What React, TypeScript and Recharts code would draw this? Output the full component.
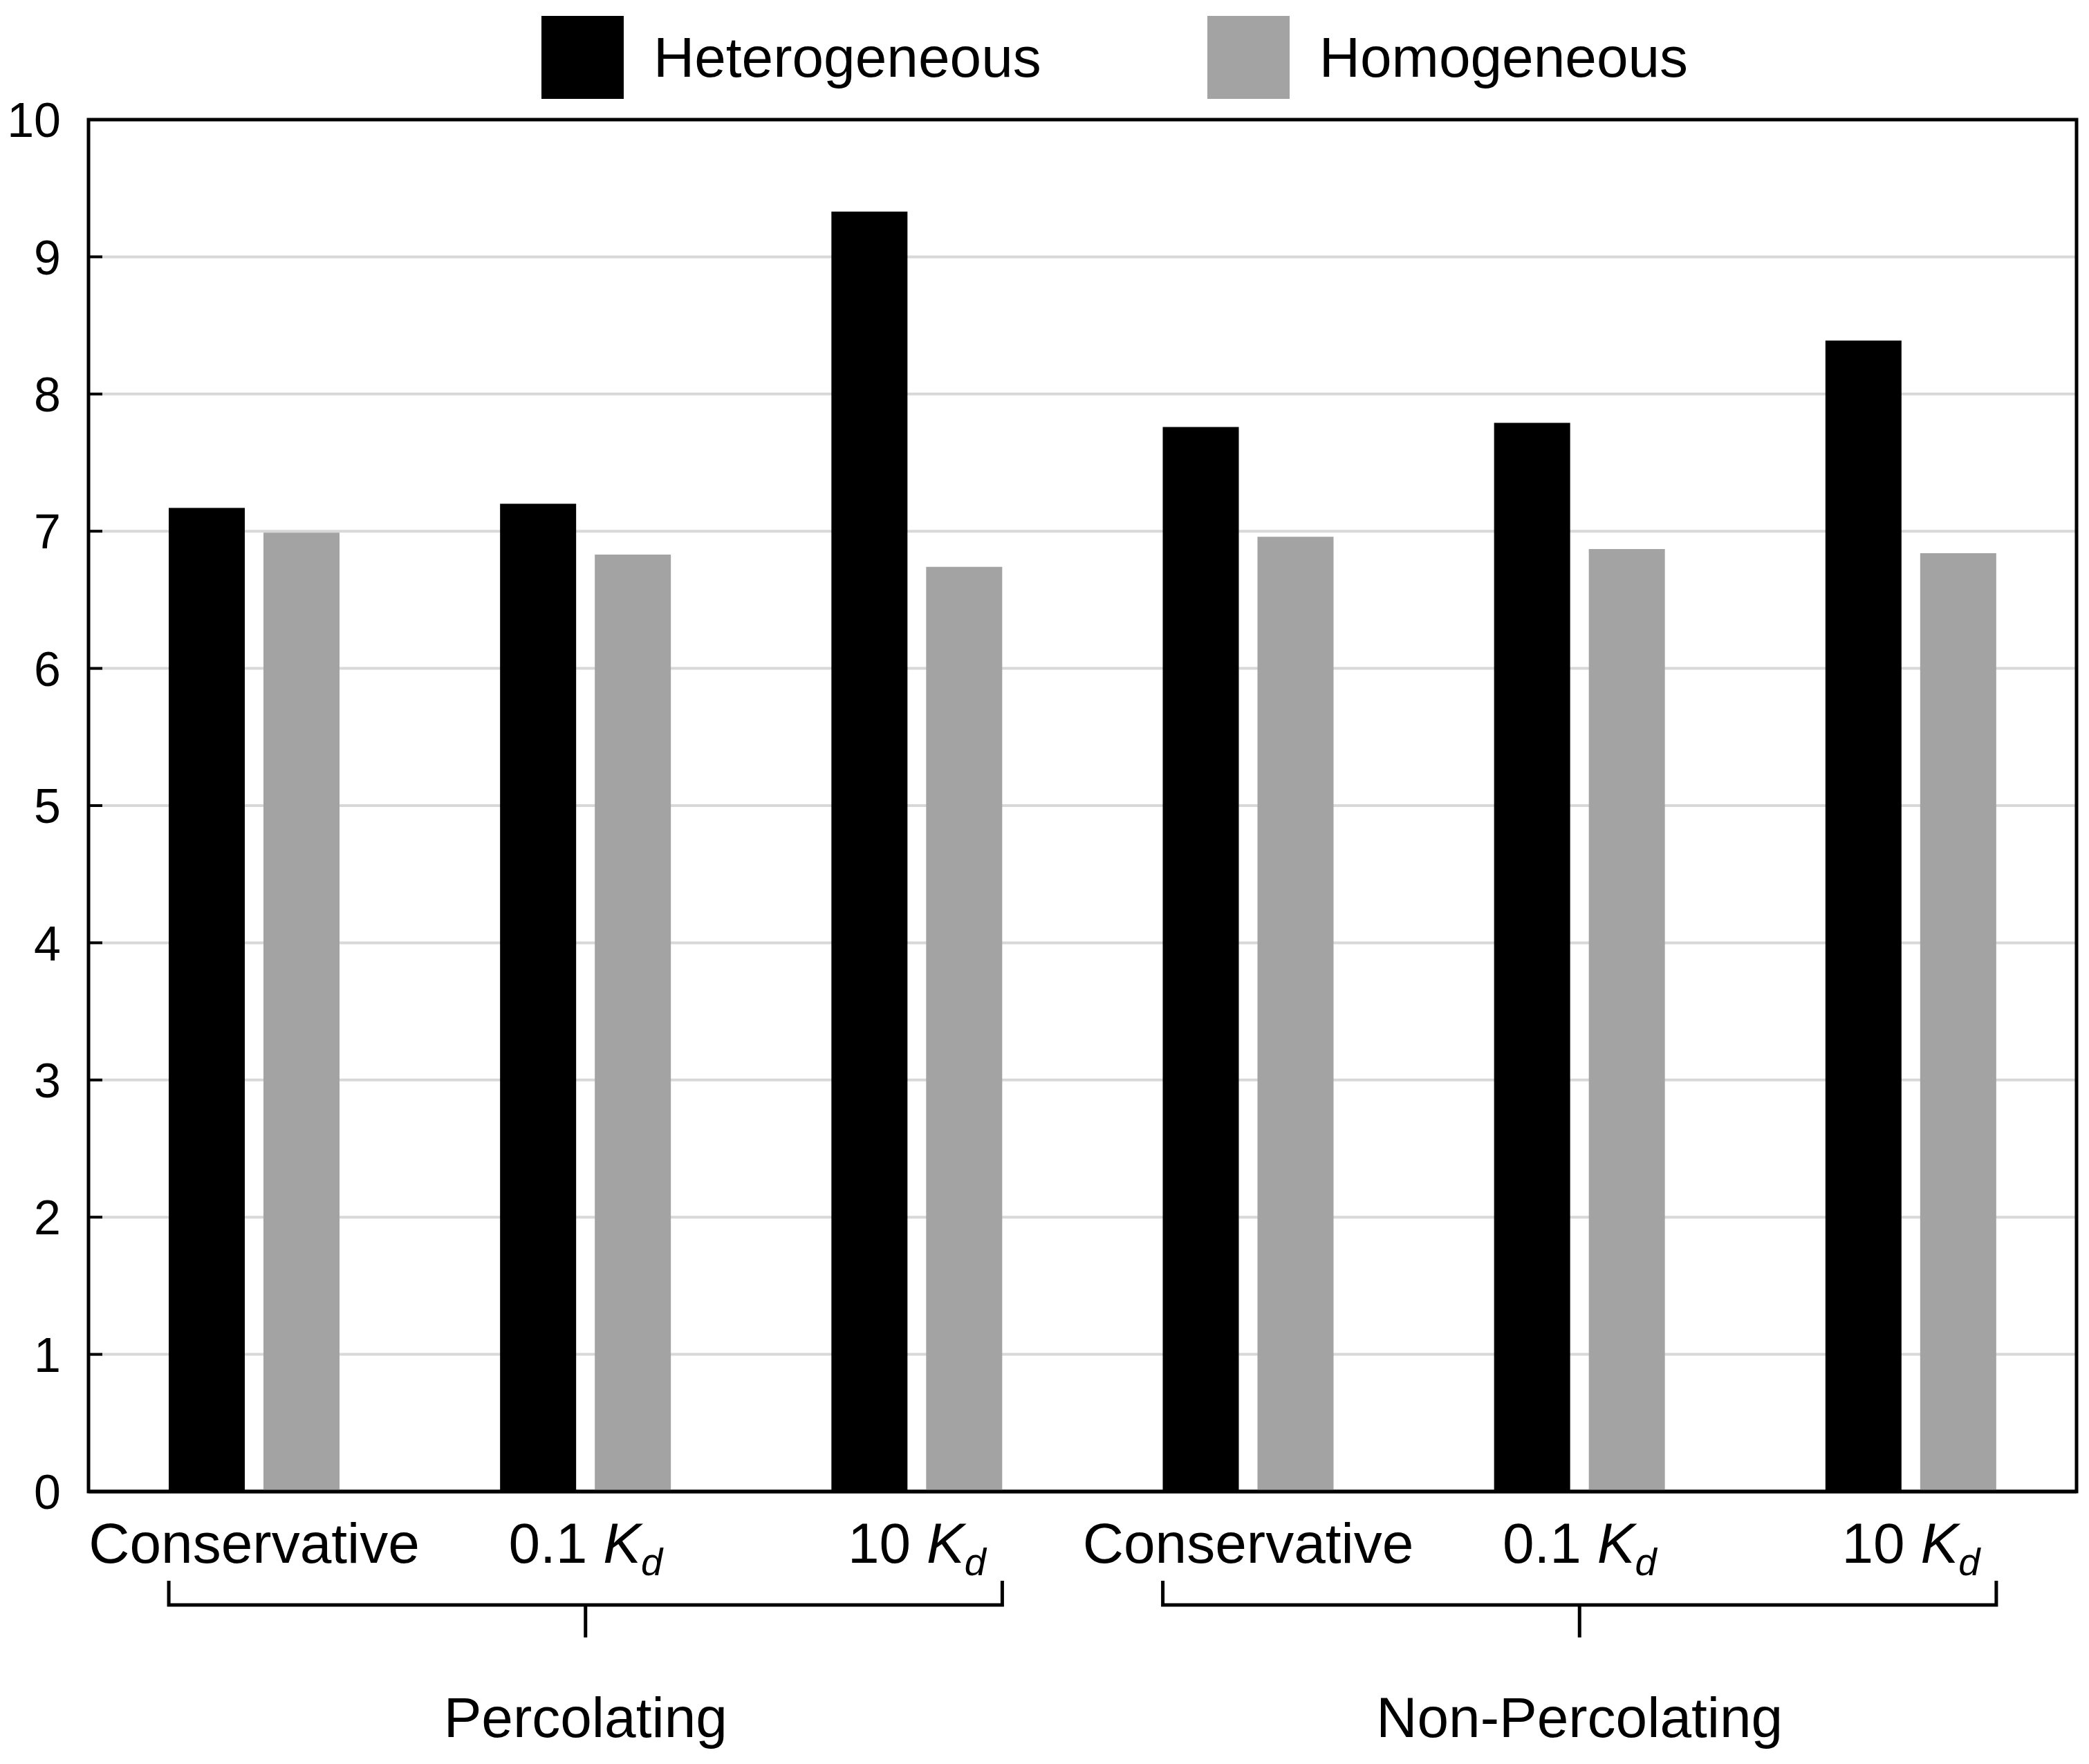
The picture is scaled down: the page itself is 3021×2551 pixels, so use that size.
import React from 'react';
import { BarChart, Bar, XAxis, YAxis, CartesianGrid, Legend, ReferenceArea } from 'recharts';

const groups = ['Percolating', 'Non-Percolating'];
const treatments = ['Conservative', '0.1 Kd', '10 Kd'];
const heterogeneous = [7.17, 7.2, 9.33, 7.76, 7.79, 8.39];
const homogeneous = [6.99, 6.83, 6.74, 6.96, 6.87, 6.84];
const yTicks = [0, 1, 2, 3, 4, 5, 6, 7, 8, 9, 10];

const data = heterogeneous.map((v, i) => ({
  name: treatments[i % 3],
  group: groups[Math.floor(i / 3)],
  heterogeneous: v,
  homogeneous: homogeneous[i],
}));

const FONT = '"Liberation Sans", Arial, sans-serif';
const W = 3021;
const H = 2551;
const MARGIN = { top: 173, right: 18, left: 0, bottom: 34 };
const Y_AXIS_W = 128;
const BAR_SIZE = 110;
const BAR_GAP = 27;
const PLOT_W = W - MARGIN.left - MARGIN.right - Y_AXIS_W;
const BAND = PLOT_W / data.length;
const BAR_OFFSET = (BAND - (BAR_SIZE * 2 + BAR_GAP)) / 2;

const ValueTick = (props: any) => {
  const { x, y, payload } = props;
  const ax = x + 40;
  return (
    <g>
      {payload.value > 0 && payload.value < 10 && (
        <line x1={ax} x2={ax + 20} y1={y} y2={y} stroke="#000" strokeWidth={4} />
      )}
      <text x={x} y={y} dy="0.36em" textAnchor="end" fontSize={70} fontFamily={FONT} fill="#000">
        {payload.value}
      </text>
    </g>
  );
};

const TreatmentTick = (props: any) => {
  const { x, y, payload } = props;
  const label: string = payload.value;
  const m = label.match(/^(.*) Kd$/);
  return (
    <text x={x} y={y + 103} textAnchor="middle" fontSize={82} fontFamily={FONT} fill="#000" style={{ whiteSpace: 'pre' }}>
      {m ? (
        <>
          <tspan>{m[1] + ' '}</tspan>
          <tspan fontStyle="italic">K</tspan>
          <tspan fontStyle="italic" fontSize={56} dy={18}>d</tspan>
        </>
      ) : (
        label
      )}
    </text>
  );
};

const GroupTick = (props: any) => {
  const { x, y, payload } = props;
  const half = BAND * 1.5 - BAR_OFFSET;
  const top = y + 19;
  const mid = y + 54;
  return (
    <g>
      <path
        d={`M${x - half},${top} L${x - half},${mid} L${x + half},${mid} L${x + half},${top} M${x},${mid} L${x},${y + 101}`}
        stroke="#000"
        strokeWidth={5}
        fill="none"
      />
      <text x={x} y={y + 245} textAnchor="middle" fontSize={82} fontFamily={FONT} fill="#000">
        {payload.value}
      </text>
    </g>
  );
};

const LegendContent = (props: any) => {
  const { payload } = props;
  return (
    <div style={{ display: 'flex', alignItems: 'center', fontFamily: FONT, fontSize: 82, color: '#000', whiteSpace: 'nowrap' }}>
      {(payload || []).map((p: any, i: number) => (
        <div key={p.value} style={{ display: 'flex', alignItems: 'center', marginLeft: i === 0 ? 0 : 240 }}>
          <span style={{ display: 'inline-block', width: 119, height: 120, background: p.color }} />
          <span style={{ marginLeft: 43 }}>{p.value}</span>
        </div>
      ))}
    </div>
  );
};

export default function App() {
  return (
    <div style={{ position: 'absolute', left: 0, top: 0, width: W, height: H, background: '#fff' }}>
      <BarChart width={W} height={H} data={data} margin={MARGIN} barGap={BAR_GAP}>
        <CartesianGrid vertical={false} stroke="#d8d8d8" strokeWidth={4} />
        <XAxis
          dataKey="name"
          height={110}
          interval={0}
          tickSize={0}
          tickMargin={0}
          tickLine={false}
          axisLine={{ stroke: '#000', strokeWidth: 5 }}
          tick={<TreatmentTick />}
        />
        <XAxis
          xAxisId="group"
          dataKey="group"
          allowDuplicatedCategory={false}
          height={250}
          tickSize={0}
          tickMargin={0}
          tickLine={false}
          axisLine={false}
          tick={<GroupTick />}
        />
        <YAxis
          width={Y_AXIS_W}
          domain={[0, 10]}
          ticks={yTicks}
          interval={0}
          tickSize={0}
          tickMargin={40}
          tickLine={false}
          axisLine={{ stroke: '#000', strokeWidth: 4 }}
          tick={<ValueTick />}
        />
        <Legend
          layout="horizontal"
          verticalAlign="middle"
          align="center"
          wrapperStyle={{ left: 783, top: 23, width: 'auto' }}
          content={<LegendContent />}
        />
        <Bar dataKey="heterogeneous" name="Heterogeneous" fill="#000000" barSize={BAR_SIZE} isAnimationActive={false} />
        <Bar dataKey="homogeneous" name="Homogeneous" fill="#a3a3a3" barSize={BAR_SIZE} isAnimationActive={false} />
        <ReferenceArea y1={0} y2={10} fill="none" fillOpacity={0} stroke="#000" strokeWidth={5} ifOverflow="visible" />
      </BarChart>
    </div>
  );
}
